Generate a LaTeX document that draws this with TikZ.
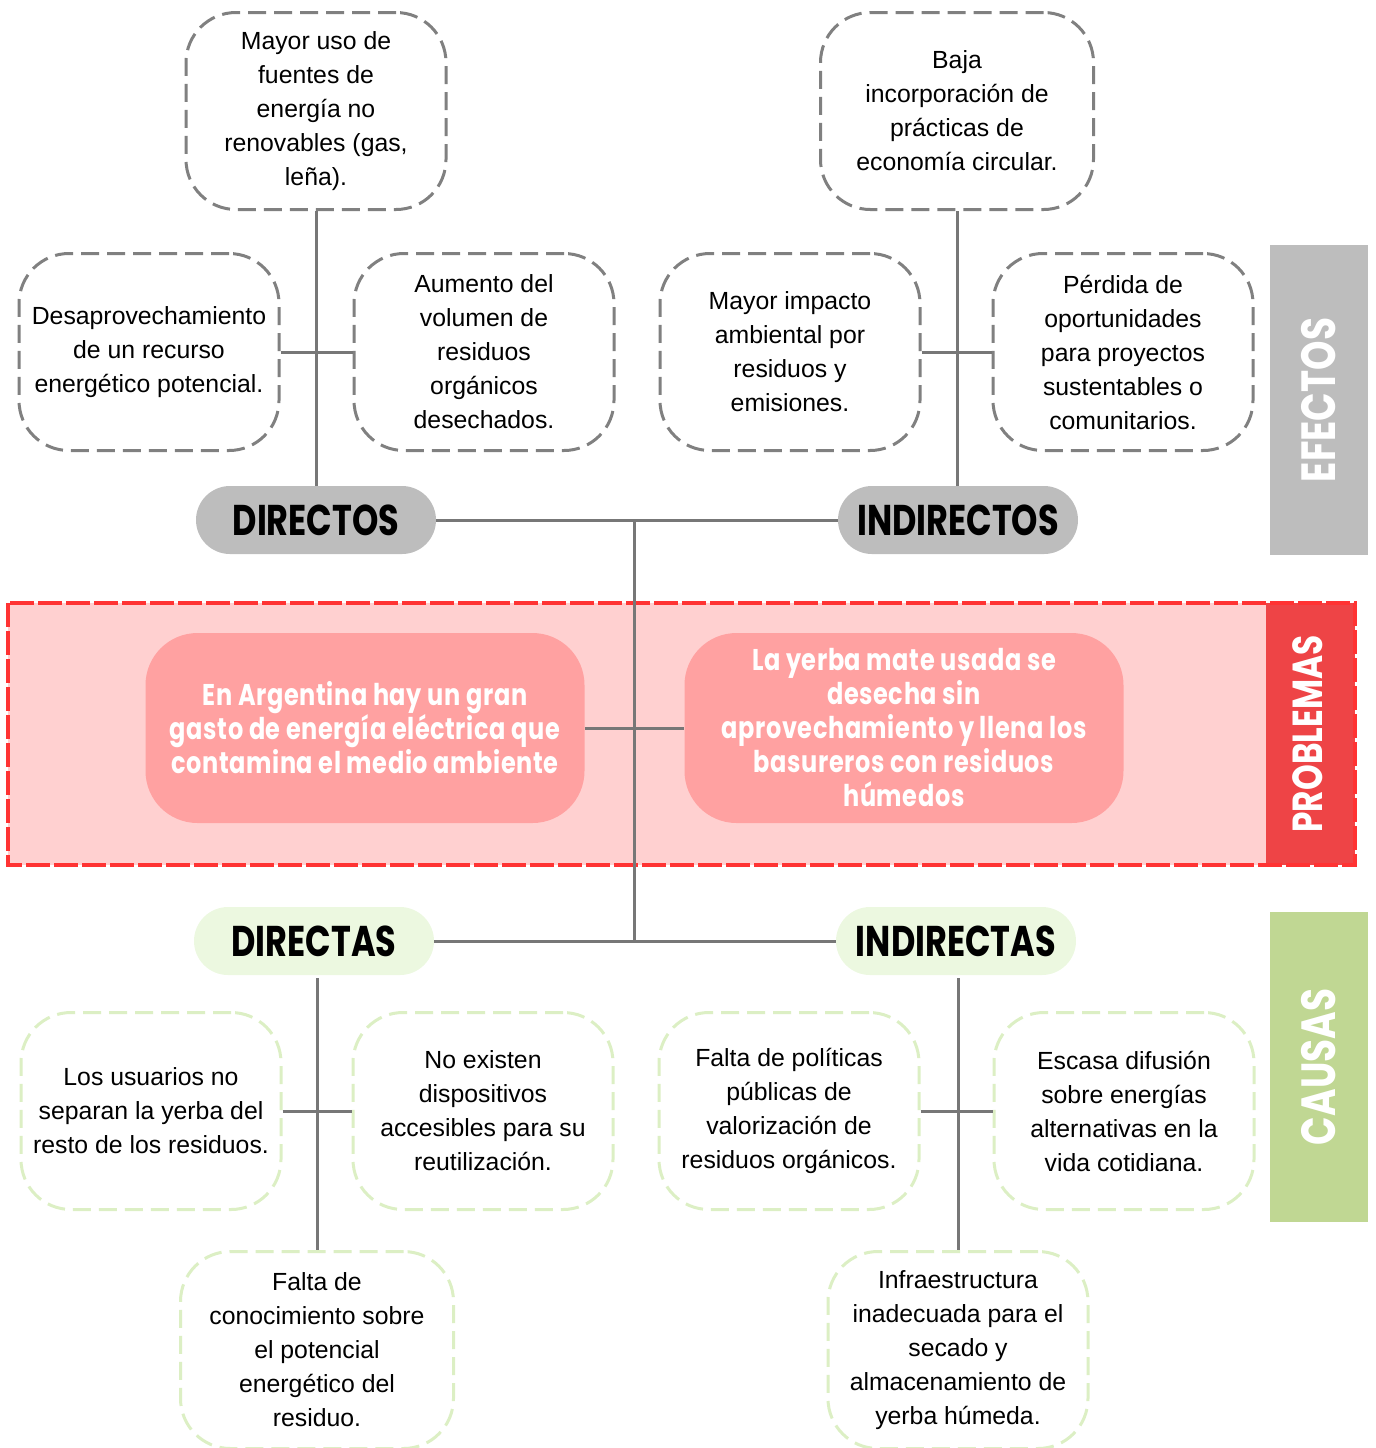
\documentclass[tikz,border=0pt]{standalone}
\usepackage{fontspec}
\setmainfont{Liberation Sans}
\newfontfamily\headfont[FakeStretch=0.78]{Poppins Bold}
\newfontfamily\probfont[FakeStretch=0.8, LetterSpace=2]{Poppins Bold}

\definecolor{lineagris}{HTML}{777777}
\definecolor{bordegris}{HTML}{808080}
\definecolor{pildoragris}{HTML}{BDBDBD}
\definecolor{franjarosa}{HTML}{FFD0D0}
\definecolor{bordered}{HTML}{FF3333}
\definecolor{rojoprob}{HTML}{EE4446}
\definecolor{cajaprob}{HTML}{FFA1A1}
\definecolor{pildoraverde}{HTML}{ECF8E0}
\definecolor{bordeverde}{HTML}{DCEFC4}
\definecolor{verdecausa}{HTML}{C0D793}

\tikzset{
    caja/.style = {rectangle, rounded corners = 25pt, line width = 1.5pt,
        dash pattern = on 9pt off 4pt, fill = white, align = center,
        minimum width = 130pt, minimum height = 98.5pt, inner sep = 2pt,
        font = \fontsize{12.4}{17}\selectfont},
    efecto/.style = {caja, draw = bordegris},
    causa/.style = {caja, draw = bordeverde},
    pildora/.style = {rectangle, rounded corners = 17pt, minimum width = 120pt,
        minimum height = 34pt, font = \headfont\fontsize{21.5}{24}\selectfont},
    problema/.style = {rectangle, rounded corners = 26pt, fill = cajaprob,
        text = white, align = center, minimum width = 219.5pt,
        minimum height = 95pt, font = \probfont\fontsize{15}{17}\selectfont},
    enlace/.style = {draw = lineagris, line width = 1.5pt},
}

\begin{document}
\begin{tikzpicture}[x = 0.5pt, y = -0.5pt]
    \useasboundingbox (0, 0) rectangle (1376, 1448);

    % rotulos laterales
    \fill [pildoragris] (1270, 245) rectangle (1368, 555);
    \fill [verdecausa] (1270, 912) rectangle (1368, 1222);
    \node [text = white, rotate = 90, font = \headfont\fontsize{24}{26}\selectfont] (lblEfectos) at (1319, 400) {EFECTOS};
    \node [text = white, rotate = 90, font = \headfont\fontsize{24}{26}\selectfont] (lblCausas) at (1319, 1067) {CAUSAS};

    % franja de problemas
    \fill [franjarosa] (8, 603) rectangle (1355, 865);
    \fill [rojoprob] (1266, 603) rectangle (1355, 865);
    \draw [bordered, line width = 2pt, dash pattern = on 12pt off 2pt] (8, 603) rectangle (1355, 865);
    \node [text = white, rotate = 90, font = \headfont\fontsize{21}{23}\selectfont] (lblProblemas) at (1308, 734) {PROBLEMAS};

    % efectos
    \node [efecto] (usoNR) at (316, 111) {Mayor uso de\\fuentes de\\energía no\\renovables (gas,\\leña).};
    \node [efecto, minimum width = 136.5pt] (circular) at (957, 111) {Baja\\incorporación de\\prácticas de\\economía circular.};
    \node [efecto] (desaprov) at (149, 352) {Desaprovechamiento\\de un recurso\\energético potencial.};
    \node [efecto] (volumen) at (484, 352) {Aumento del\\volumen de\\residuos\\orgánicos\\desechados.};
    \node [efecto] (impacto) at (790, 352) {Mayor impacto\\ambiental por\\residuos y\\emisiones.};
    \node [efecto] (perdida) at (1123, 352) {Pérdida de\\oportunidades\\para proyectos\\sustentables o\\comunitarios.};

    \node [pildora, fill = pildoragris] (directos) at (316, 520) {DIRECTOS};
    \node [pildora, fill = pildoragris] (indirectos) at (958, 520) {INDIRECTOS};

    % causas
    \node [pildora, fill = pildoraverde] (directas) at (314, 941) {DIRECTAS};
    \node [pildora, fill = pildoraverde] (indirectas) at (956, 941) {INDIRECTAS};

    \node [causa] (separan) at (151, 1111) {Los usuarios no\\separan la yerba del\\resto de los residuos.};
    \node [causa] (dispositivos) at (483, 1111) {No existen\\dispositivos\\accesibles para su\\reutilización.};
    \node [causa] (politicas) at (789, 1111) {Falta de políticas\\públicas de\\valorización de\\residuos orgánicos.};
    \node [causa] (difusion) at (1124, 1111) {Escasa difusión\\sobre energías\\alternativas en la\\vida cotidiana.};
    \node [causa, minimum width = 136.5pt] (conocimiento) at (317, 1350) {Falta de\\conocimiento sobre\\el potencial\\energético del\\residuo.};
    \node [causa] (infra) at (958, 1350) {Infraestructura\\inadecuada para el\\secado y\\almacenamiento de\\yerba húmeda.};

    % conectores
    \coordinate (nudoSup) at (634, 520);
    \coordinate (nudoInf) at (634, 940);
    \coordinate (pieDirectas) at (317, 978);
    \coordinate (pieIndirectas) at (958, 978);
    \draw [enlace] (directos) -- (indirectos);
    \draw [enlace] (directas) -- (indirectas);
    \draw [enlace] (nudoSup) -- (nudoInf);
    \draw [enlace] (usoNR.south) -- (usoNR.south |- directos.north);
    \draw [enlace] (desaprov.east) -- (volumen.west);
    \draw [enlace] (circular.south) -- (circular.south |- indirectos.north);
    \draw [enlace] (impacto.east) -- (perdida.west);
    \draw [enlace] (pieDirectas) -- (conocimiento.north);
    \draw [enlace] (separan.east) -- (dispositivos.west);
    \draw [enlace] (pieIndirectas) -- (infra.north);
    \draw [enlace] (politicas.east) -- (difusion.west);

    % problemas
    \node [problema] (gasto) at (365, 728) {En Argentina hay un gran\\gasto de energía eléctrica que\\contamina el medio ambiente};
    \node [problema] (yerba) at (904, 728) {La yerba mate usada se\\desecha sin\\aprovechamiento y llena los\\basureros con residuos\\húmedos};
    \draw [enlace] (gasto) -- (yerba);
\end{tikzpicture}
\end{document}
